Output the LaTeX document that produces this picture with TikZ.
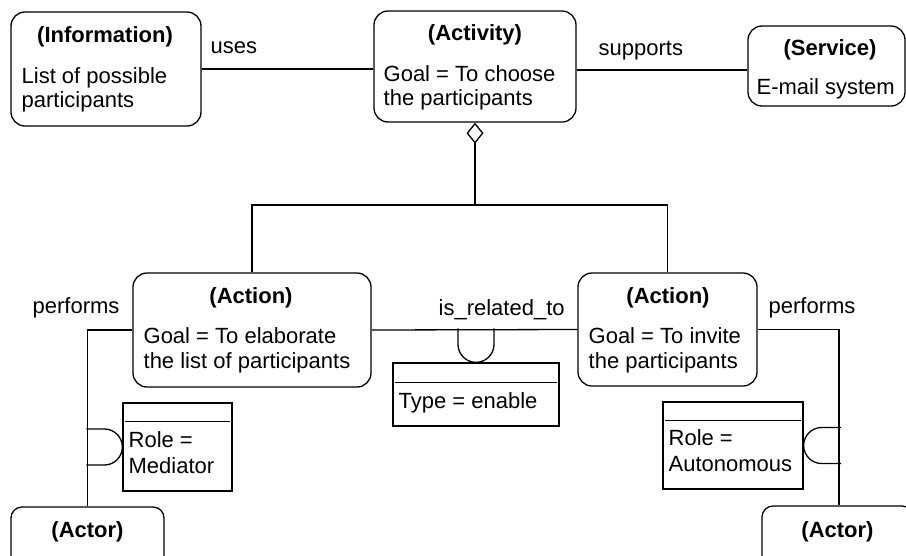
\documentclass[tikz,border=0pt]{standalone}
\usepackage{fontspec}
\setmainfont{Liberation Sans}
\usetikzlibrary{arrows.meta,calc}

\begin{document}
\begin{tikzpicture}[x=1pt,y=-1pt,
  line width=1.3pt,
  every node/.style={font=\fontsize{22}{25}\selectfont},
  objbox/.style={draw, rounded corners=14pt, inner sep=0pt, minimum width=#1},
  attrbox/.style={draw, inner sep=0pt},
  txt/.style={anchor=base west, inner sep=0pt},
  ttl/.style={anchor=base, inner sep=0pt, font=\fontsize{22}{25}\selectfont\bfseries},
]
\path[use as bounding box] (0,0) rectangle (906,555);
\clip (0,0) rectangle (906,555);

% ---- object boxes ----
\node[objbox=190pt, minimum height=114pt] (info) at (106,69) {};
\node[objbox=202pt, minimum height=111pt] (act) at (475,66.5) {};
\node[objbox=157pt, minimum height=80pt] (serv) at (826.5,66) {};
\node[objbox=238pt, minimum height=114pt] (actL) at (252,330) {};
\node[objbox=179pt, minimum height=113pt] (actR) at (667.5,329.5) {};
\node[objbox=153pt, minimum height=82pt, rounded corners=11pt] (actorL) at (87.5,548) {};
\node[objbox=151pt, minimum height=84pt, rounded corners=11pt] (actorR) at (837.5,548) {};

% ---- attribute boxes ----
\node[attrbox, minimum width=166pt, minimum height=63pt] (typeb) at (476,394.5) {};
\node[attrbox, minimum width=109pt, minimum height=88pt] (medb) at (177.5,447) {};
\node[attrbox, minimum width=140pt, minimum height=87pt] (autb) at (733,445.5) {};

\foreach \b/\d in {typeb/20, medb/19, autb/19}{
  \draw ($(\b.north west)+(3,\d)$) -- ($(\b.north east)+(-3,\d)$);
}

% ---- texts in boxes ----
\node[ttl] (info-t) at (105,42) {(Information)};
\node[txt] (info-1) at (21,83) {List of possible};
\node[txt] (info-2) at (21,107) {participants};

\node[ttl] (act-t) at (475,40) {(Activity)};
\node[txt] (act-1) at (383,81) {Goal = To choose};
\node[txt] (act-2) at (383,105) {the participants};

\node[ttl] (serv-t) at (830,55) {(Service)};
\node[txt] (serv-1) at (756,94) {E-mail system};

\node[ttl] (actL-t) at (251,303) {(Action)};
\node[txt] (actL-1) at (143,343) {Goal = To elaborate};
\node[txt] (actL-2) at (143,368) {the list of participants};

\node[ttl] (actR-t) at (668,303) {(Action)};
\node[txt] (actR-1) at (588,343) {Goal = To invite};
\node[txt] (actR-2) at (588,368) {the participants};

\node[ttl] (actorL-t) at (87.5,537) {(Actor)};
\node[ttl] (actorR-t) at (837.5,537) {(Actor)};

\node[txt] (type-1) at (398,408) {Type = enable};
\node[txt] (med-1) at (128,447) {Role =};
\node[txt] (med-2) at (128,473) {Mediator};
\node[txt] (aut-1) at (668,445) {Role =};
\node[txt] (aut-2) at (668,471) {Autonomous};

% ---- connector labels ----
\node[txt] (l-uses) at (210,53) {uses};
\node[txt] (l-supp) at (598,55) {supports};
\node[txt] (l-rel) at (438,315) {is\_related\_to};
\node[txt] (l-perfL) at (32,313) {performs};
\node[txt] (l-perfR) at (768,313) {performs};

% ---- connectors ----
\draw (info.east) -- (info.east -| act.west);
\draw ([yshift=-3.5pt]act.east) -- ([yshift=-3.5pt]act.east -| serv.west);

\coordinate (agg) at (475,205);
\draw[-{Diamond[open,length=21pt,width=17pt]}] (agg) -- (act.south);
\draw (actL.north) |- (agg) -| (actR.north);

\draw (actL.east) -- (actR.west);
\draw ($(typeb.north)+(-18,-34)$) -- ++(0,16)
      arc[start angle=180, end angle=0, radius=18] -- ++(0,-16);

\draw (actL.west) -| (actorL.north);
\draw ($(medb.west)+(-36,-18)$) -- ++(18,0)
      arc[start angle=-90, end angle=90, radius=18] -- ++(-18,0);

\draw (actR.east) -| ([xshift=1.5pt]actorR.north);
\draw ($(autb.east)+(37.5,-18)$) -- ++(-19.5,0)
      arc[start angle=270, end angle=90, radius=18] -- ++(19.5,0);
\end{tikzpicture}
\end{document}
